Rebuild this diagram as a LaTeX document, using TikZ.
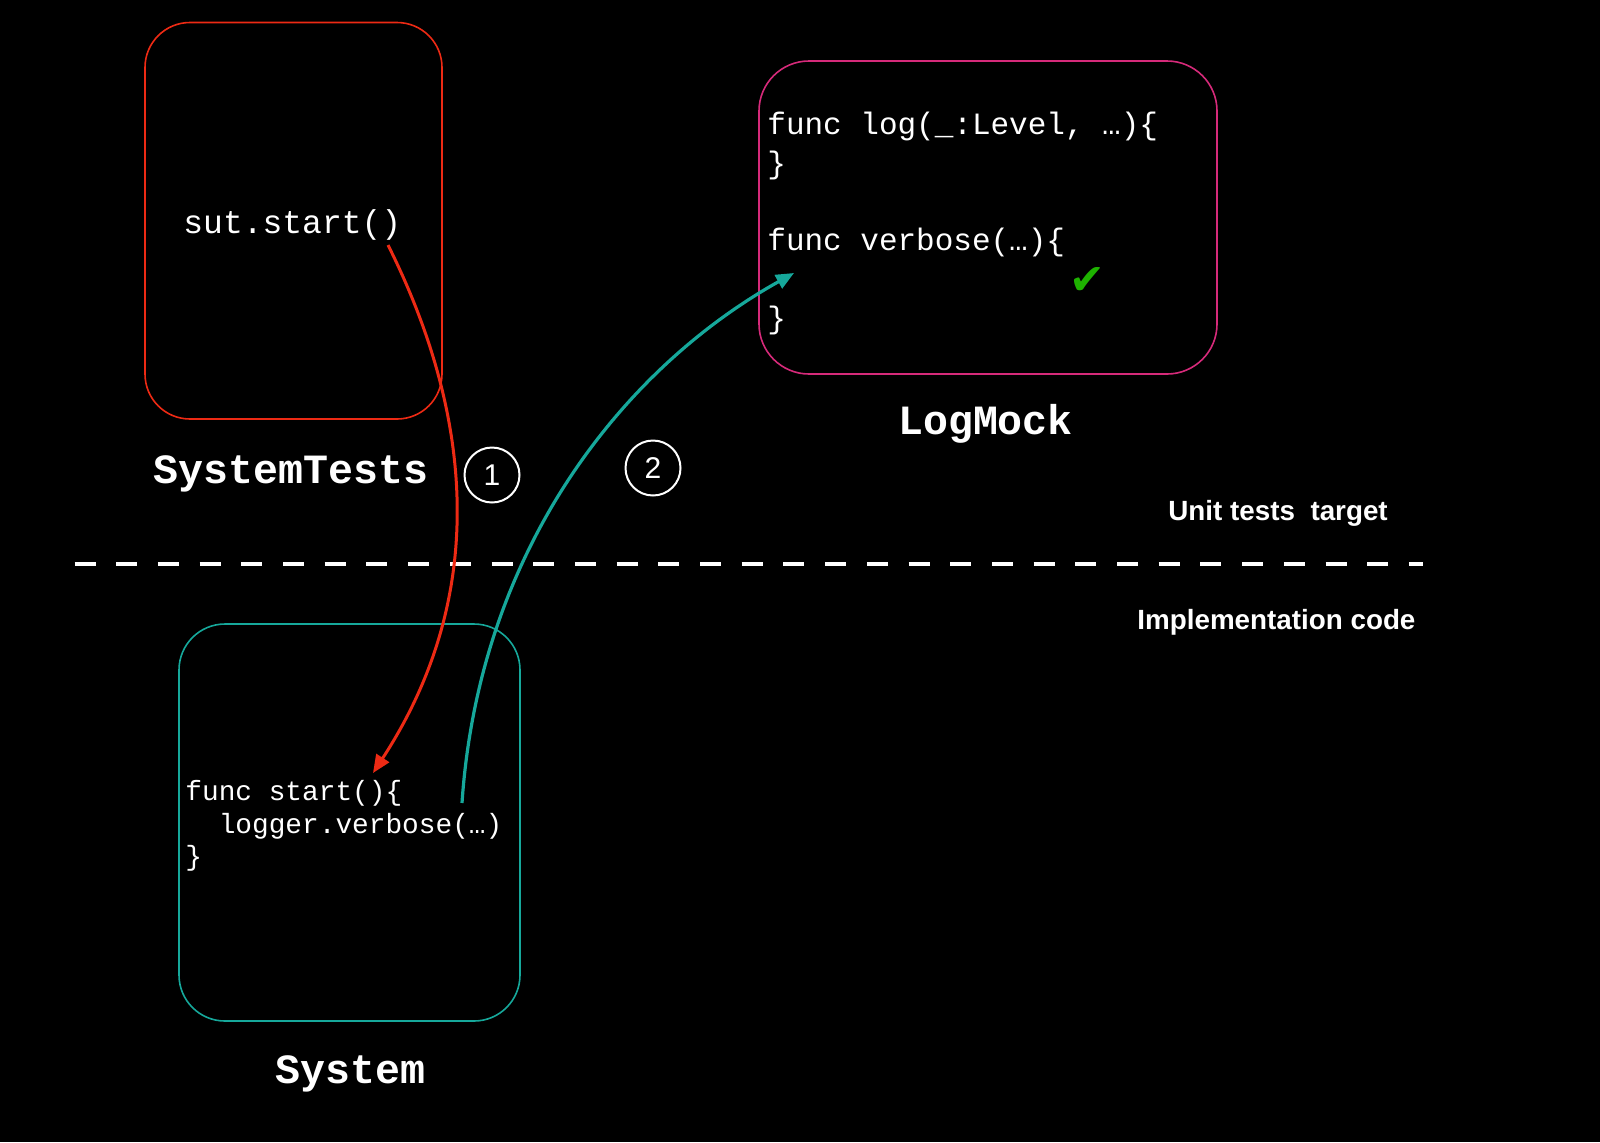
\documentclass[tikz,border=0pt]{standalone}
\usepackage{fontspec}
\setmainfont{Liberation Sans}
\newfontfamily\codefont{Liberation Mono}
\newfontfamily\symfont{DejaVu Sans}
\usetikzlibrary{arrows.meta}
\definecolor{cred}{RGB}{237,42,20}
\definecolor{cpink}{RGB}{214,42,122}
\definecolor{cteal}{RGB}{22,168,155}
\definecolor{cgreen}{RGB}{30,178,0}
\begin{document}
\begin{tikzpicture}[x=0.5pt,y=-0.5pt,
  box/.style={rectangle, line width=0.8pt, inner sep=0pt},
  code/.style={font=\codefont\fontsize{15.5pt}{19pt}\selectfont, text=white, inner sep=0pt, anchor=base west},
  smallcode/.style={font=\codefont\fontsize{13.9pt}{17pt}\selectfont, text=white, inner sep=0pt, anchor=base west},
  title/.style={font=\codefont\bfseries\fontsize{20.8pt}{25pt}\selectfont, text=white, inner sep=0pt, anchor=base},
  sidelabel/.style={font=\bfseries\fontsize{13.9pt}{16pt}\selectfont, text=white, inner sep=0pt, anchor=base west},
  numcirc/.style={circle, draw=white, line width=1pt, minimum size=27.5pt, inner sep=0pt, text=white, font=\fontsize{15pt}{18pt}\selectfont},
  conn/.style={line width=1.6pt, -{Triangle[length=9pt,width=7.5pt]}}
]
\fill[black] (0,0) rectangle (1600,1142);
\useasboundingbox (0,0) rectangle (1600,1142);

% boxes
\node[box, draw=cred, rounded corners=22.5pt, minimum width=148.5pt, minimum height=198.25pt] (stbox) at (293.5,220.75) {};
\node[box, draw=cpink, rounded corners=25pt, minimum width=229pt, minimum height=156.5pt] (lmbox) at (988,217.5) {};
\node[box, draw=cteal, rounded corners=23pt, minimum width=170.5pt, minimum height=198.5pt] (sysbox) at (349.5,822.5) {};

% titles
\node[title] (sttitle) at (291,483) {SystemTests};
\node[title] (lmtitle) at (985.5,434) {LogMock};
\node[title] (systitle) at (350.5,1083.7) {System};

% code
\node[code, font=\codefont\fontsize{16.5pt}{19pt}\selectfont] (sut) at (183,233) {sut.start()};
\node[code] (lm1) at (767,134) {func log(\_:Level, …)\{};
\node[code] (lm2) at (767,173) {\}};
\node[code] (lm3) at (767,250.5) {func verbose(…)\{};
\node[code] (lm4) at (767,328) {\}};
\node[font=\symfont\fontsize{21.4pt}{24pt}\selectfont, text=cgreen, inner sep=0pt] (check) at (1087,281) {✔};

\node[smallcode] (sys1) at (185,800.5) {func start()\{};
\node[smallcode] (sys2) at (185,833) {\hphantom{xx}logger.verbose(…)};
\node[smallcode] (sys3) at (185,865.5) {\}};

% side labels
\node[sidelabel] (unit) at (1168,520) {Unit tests\ \ target};
\node[sidelabel] (impl) at (1137,629) {Implementation code};

% separator
\coordinate (sepL) at (74.5,564);
\coordinate (sepR) at (1423,564);
\draw[white, line width=2pt, dash pattern=on 10.5pt off 10.35pt] (sepL) -- (sepR);

% step numbers
\node[numcirc] (n1) at (492,475) {1};
\node[numcirc] (n2) at (653,468) {2};

% connectors
\coordinate (redS) at (388,245);
\coordinate (redE) at (373,773);
\coordinate (tealS) at (462,803);
\coordinate (tealE) at (794,273);
\draw[conn, cred, line width=1.5pt] (redS) .. controls (475.4,419.9) and (487,598.3) .. (redE);
\draw[conn, cteal] (tealS) .. controls (478.75,553.5) and (619.4,370.6) .. (tealE);
\end{tikzpicture}
\end{document}
